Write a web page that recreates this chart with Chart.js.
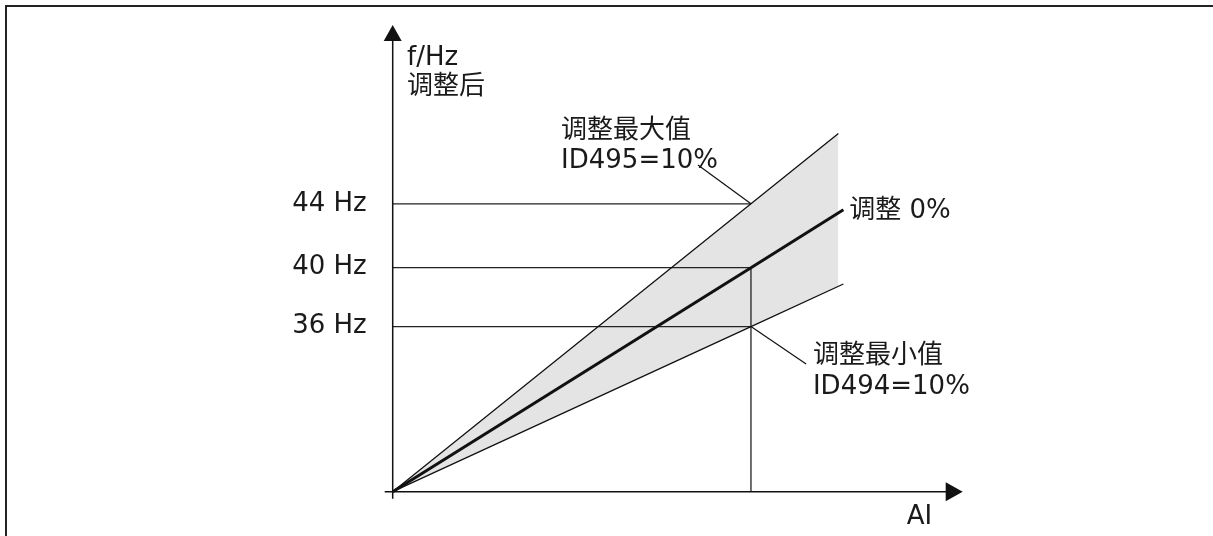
<!DOCTYPE html>
<html>
<head>
<meta charset="utf-8">
<script src="https://cdn.jsdelivr.net/npm/chart.js@4/dist/chart.umd.min.js"></script>
<style>
  html, body { margin: 0; padding: 0; background: #fff; }
  #wrap { position: relative; width: 1213px; height: 536px; }
</style>
</head>
<body>
<div id="wrap"><canvas id="adjustChart"></canvas></div>
<script>
// schematic diagram: the frequency axis is not to scale, values are diagram units
const levelLabels = ['36 Hz', '40 Hz', '44 Hz'];
const levelValues = [7.37, 10, 12.85];
const aiPoint = 10;

const maxLineX = [0, 10, 12.44];
const maxLineY = [0, 12.85, 15.99];
const zeroLineX = [0, 10, 12.58];
const zeroLineY = [0, 10, 12.58];
const minLineX = [0, 10, 12.58];
const minLineY = [0, 7.37, 9.27];

const bandX = [0, 12.44];
const bandTopY = [0, 15.99];
const bandBottomY = [0, 9.17];

const FONT = '"DejaVu Sans", "Noto Sans CJK SC", sans-serif';
const INK = '#1a1a1a';

const pts = (xs, ys) => xs.map((x, i) => ({ x: x, y: ys[i] }));

// text labels placed in data units
const notes = [
  { lines: ['f/Hz', '调整后'], x: 0.40, y: 19.03, lh: 29 },
  { lines: ['调整最大值', 'ID495=10%'], x: 4.70, y: 15.79, lh: 30.5, leader: [[8.52, 14.58], [10, 12.85]] },
  { lines: ['调整 0%'], x: 12.74, y: 12.22, lh: 30 },
  { lines: ['调整最小值', 'ID494=10%'], x: 11.73, y: 5.75, lh: 31.5, leader: [[10, 7.37], [11.54, 5.70]] },
  { lines: ['AI'], x: 14.35, y: -1.46, lh: 30 }
];

const schematic = {
  id: 'schematic',
  afterDatasetsDraw(chart) {
    const ctx = chart.ctx;
    const xs = chart.scales.x, ys = chart.scales.y;
    const area = chart.chartArea;
    const X0 = xs.getPixelForValue(0), Y0 = ys.getPixelForValue(0);
    ctx.save();

    // frame
    ctx.strokeStyle = '#222';
    ctx.lineWidth = 2;
    ctx.beginPath();
    ctx.moveTo(6, chart.height);
    ctx.lineTo(6, 6);
    ctx.lineTo(chart.width, 6);
    ctx.stroke();

    // axes with arrows
    ctx.strokeStyle = '#111';
    ctx.fillStyle = '#111';
    ctx.lineWidth = 1.5;
    ctx.beginPath();
    ctx.moveTo(X0, area.top + 14);
    ctx.lineTo(X0, Y0 + 7);
    ctx.moveTo(X0 - 8, Y0);
    ctx.lineTo(area.right - 14, Y0);
    ctx.stroke();
    ctx.beginPath();
    ctx.moveTo(X0, area.top);
    ctx.lineTo(X0 - 9, area.top + 16);
    ctx.lineTo(X0 + 9, area.top + 16);
    ctx.closePath();
    ctx.fill();
    ctx.beginPath();
    ctx.moveTo(area.right, Y0);
    ctx.lineTo(area.right - 17, Y0 - 9.5);
    ctx.lineTo(area.right - 17, Y0 + 9.5);
    ctx.closePath();
    ctx.fill();

    // notes and leader lines
    ctx.lineWidth = 1.2;
    ctx.font = '26px ' + FONT;
    ctx.fillStyle = INK;
    ctx.textAlign = 'left';
    ctx.textBaseline = 'alphabetic';
    notes.forEach(n => {
      const px = xs.getPixelForValue(n.x), py = ys.getPixelForValue(n.y);
      n.lines.forEach((t, i) => ctx.fillText(t, px, py + i * n.lh));
      if (n.leader) {
        ctx.beginPath();
        ctx.moveTo(xs.getPixelForValue(n.leader[0][0]), ys.getPixelForValue(n.leader[0][1]));
        ctx.lineTo(xs.getPixelForValue(n.leader[1][0]), ys.getPixelForValue(n.leader[1][1]));
        ctx.stroke();
      }
    });
    ctx.restore();
  }
};

const guides = levelValues.map(v => ({
  data: [{ x: 0, y: v }, { x: aiPoint, y: v }],
  borderColor: '#222', borderWidth: 1.3, order: 5
}));

new Chart(document.getElementById('adjustChart').getContext('2d'), {
  type: 'line',
  data: {
    datasets: [
      { data: pts(bandX, bandTopY), borderWidth: 0, backgroundColor: '#e4e4e4', fill: '+1', order: 10 },
      { data: pts(bandX, bandBottomY), borderWidth: 0, fill: false, order: 10 },
      ...guides,
      { data: [{ x: aiPoint, y: 0 }, { x: aiPoint, y: levelValues[1] }], borderColor: '#222', borderWidth: 1.3, order: 5 },
      { data: pts(maxLineX, maxLineY), borderColor: '#111', borderWidth: 1.3, order: 1 },
      { data: pts(minLineX, minLineY), borderColor: '#111', borderWidth: 1.3, order: 1 },
      { data: pts(zeroLineX, zeroLineY), borderColor: '#111', borderWidth: 3, order: 0 }
    ]
  },
  options: {
    responsive: true,
    maintainAspectRatio: false,
    animation: false,
    clip: false,
    elements: { point: { radius: 0 }, line: { tension: 0, borderCapStyle: 'butt' } },
    layout: { padding: { left: 0, top: 25, right: 250.3, bottom: 44.3 } },
    plugins: { legend: { display: false }, tooltip: { enabled: false } },
    scales: {
      x: { type: 'linear', min: 0, max: 15.91, display: false },
      y: {
        type: 'linear', min: 0, max: 20.83,
        grid: { display: false, drawTicks: true, tickLength: 26 },
        border: { display: false },
        ticks: {
          padding: 0,
          color: INK,
          font: { family: FONT, size: 26 },
          callback: (v, i) => levelLabels[i]
        },
        afterBuildTicks: s => { s.ticks = levelValues.map(v => ({ value: v })); },
        afterFit: s => { s.width = 392.7; }
      }
    }
  },
  plugins: [schematic]
});
</script>
</body>
</html>
